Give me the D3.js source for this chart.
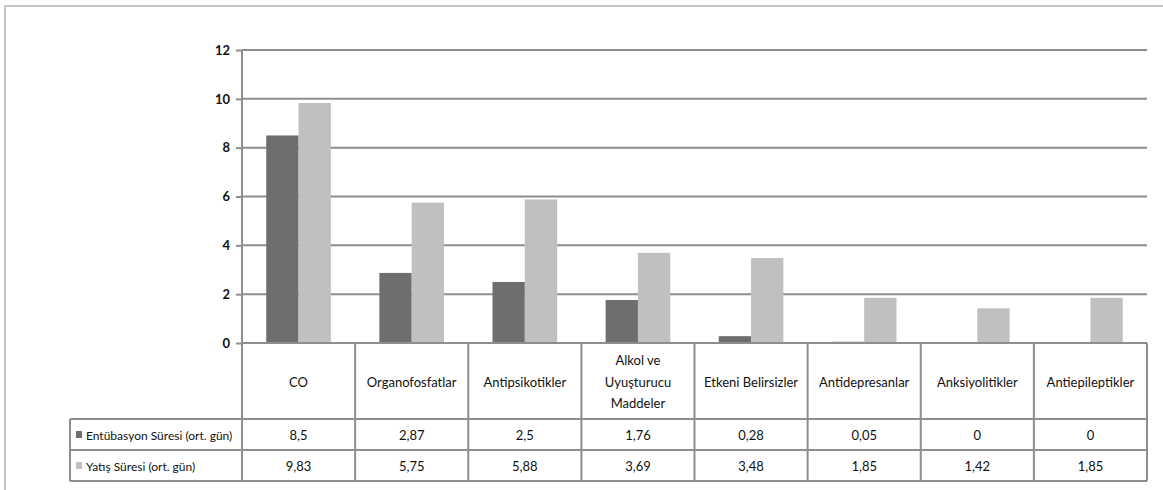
<!DOCTYPE html>
<html>
<head>
<meta charset="utf-8">
<script src="https://cdn.jsdelivr.net/npm/d3@7"></script>
<style>
  html, body { margin: 0; padding: 0; background: #fff; }
  svg { display: block; font-family: Lato, "Liberation Sans", sans-serif; }
</style>
</head>
<body>
<svg id="chart" width="1163" height="490"></svg>
<script>
// ---- data ----
const categories = ["CO", "Organofosfatlar", "Antipsikotikler", "Alkol ve\nUyuşturucu\nMaddeler",
  "Etkeni Belirsizler", "Antidepresanlar", "Anksiyolitikler", "Antiepileptikler"];
const seriesNames = ["Entübasyon Süresi (ort. gün)", "Yatış Süresi (ort. gün)"];
const entubasyon = [8.5, 2.87, 2.5, 1.76, 0.28, 0.05, 0, 0];
const yatis = [9.83, 5.75, 5.88, 3.69, 3.48, 1.85, 1.42, 1.85];
const yTicks = [0, 2, 4, 6, 8, 10, 12];
const seriesValues = [entubasyon, yatis];

// ---- styles / layout ----
const colors = ["#6e6e6e", "#c0c0c0"];
const lineColor = "#8e8e8e";
const textColor = "#111";
const fontSize = "13px";
const plotLeft = 242, plotRight = 1147, plotTop = 50, plotBottom = 343;
const catRowBottom = 419, row1Bottom = 450, row2Bottom = 481, tableLeft = 70;

const svg = d3.select("#chart");

// outer chart frame
svg.append("path")
  .attr("d", `M5,495 L5,6 L1170,6`)
  .attr("fill", "none").attr("stroke", "#b4b4b4").attr("stroke-width", 1.5);

const y = d3.scaleLinear().domain([0, 12]).range([plotBottom, plotTop]);
const x0 = d3.scaleBand().domain(d3.range(categories.length)).range([plotLeft, plotRight]).padding(0);
const bw = x0.bandwidth();
const gap = bw * 1.5 / 3.5;
const x1 = d3.scaleBand().domain(d3.range(seriesNames.length)).range([gap / 2, bw - gap / 2]).padding(0);

// gridlines
svg.append("g").selectAll("line").data(yTicks).join("line")
  .attr("x1", plotLeft).attr("x2", plotRight)
  .attr("y1", d => y(d)).attr("y2", d => y(d))
  .attr("stroke", lineColor).attr("stroke-width", 2);

// y axis
const yAxis = svg.append("g").attr("transform", `translate(${plotLeft},0)`)
  .call(d3.axisLeft(y).tickValues(yTicks).tickSize(6).tickPadding(6).tickFormat(d3.format("d")));
yAxis.select(".domain").remove();
yAxis.selectAll(".tick line").attr("stroke", lineColor).attr("stroke-width", 2);
yAxis.selectAll(".tick text").attr("fill", textColor).style("font-size", "13px")
  .style("font-family", "Lato, sans-serif").style("font-weight", "bold");

// bars
const groups = svg.append("g").selectAll("g").data(categories.map((c, i) => i)).join("g")
  .attr("transform", i => `translate(${x0(i)},0)`);
groups.selectAll("rect").data(i => seriesValues.map((vals, s) => ({ s, v: vals[i] }))).join("rect")
  .attr("x", d => x1(d.s))
  .attr("width", x1.bandwidth())
  .attr("y", d => y(d.v))
  .attr("height", d => y(0) - y(d.v))
  .attr("fill", d => colors[d.s]);

// zero line redraw over bars
svg.append("line").attr("x1", plotLeft).attr("x2", plotRight)
  .attr("y1", y(0)).attr("y2", y(0)).attr("stroke", lineColor).attr("stroke-width", 2);

// ---- data table ----
const tbl = svg.append("g").attr("stroke", lineColor).attr("stroke-width", 2).attr("fill", "none");
const vx = d3.range(categories.length + 1).map(i => i < categories.length ? x0(i) : plotRight);
tbl.selectAll("line.v").data(vx).join("line").attr("class", "v")
  .attr("x1", d => d).attr("x2", d => d)
  .attr("y1", (d, i) => i === 0 ? plotTop : plotBottom).attr("y2", row2Bottom);
[catRowBottom, row1Bottom, row2Bottom].forEach(yy => {
  tbl.append("line").attr("x1", tableLeft).attr("x2", plotRight).attr("y1", yy).attr("y2", yy);
});
tbl.append("line").attr("x1", tableLeft).attr("x2", tableLeft).attr("y1", catRowBottom).attr("y2", row2Bottom);

// category labels
const lineH = 21.5;
const catMid = (plotBottom + catRowBottom) / 2;
svg.append("g").selectAll("text").data(categories).join("text")
  .attr("text-anchor", "middle")
  .attr("fill", textColor)
  .style("font-size", fontSize)
  .each(function (d, i) {
    const lines = d.split("\n");
    const cx = x0(i) + bw / 2;
    const t = d3.select(this);
    lines.forEach((ln, k) => {
      t.append("tspan").attr("x", cx)
        .attr("y", catMid + (k - (lines.length - 1) / 2) * lineH + 1)
        .attr("dy", "0.35em").text(ln);
    });
  });

// value rows
const fmt = v => String(v).replace(".", ",");
const rowMids = [(catRowBottom + row1Bottom) / 2, (row1Bottom + row2Bottom) / 2];
seriesValues.forEach((vals, s) => {
  svg.append("g").selectAll("text").data(vals).join("text")
    .attr("x", (d, i) => x0(i) + bw / 2)
    .attr("y", rowMids[s] + 1)
    .attr("dy", "0.35em")
    .attr("text-anchor", "middle")
    .attr("fill", textColor)
    .style("font-size", fontSize)
    .text(fmt);
  svg.append("rect").attr("x", 76).attr("y", rowMids[s] - 3.5).attr("width", 6).attr("height", 7)
    .attr("fill", colors[s]);
  svg.append("text").attr("x", 86).attr("y", rowMids[s] + 1).attr("dy", "0.35em")
    .attr("fill", textColor).style("font-size", "12px").text(seriesNames[s]);
});
</script>
</body>
</html>
